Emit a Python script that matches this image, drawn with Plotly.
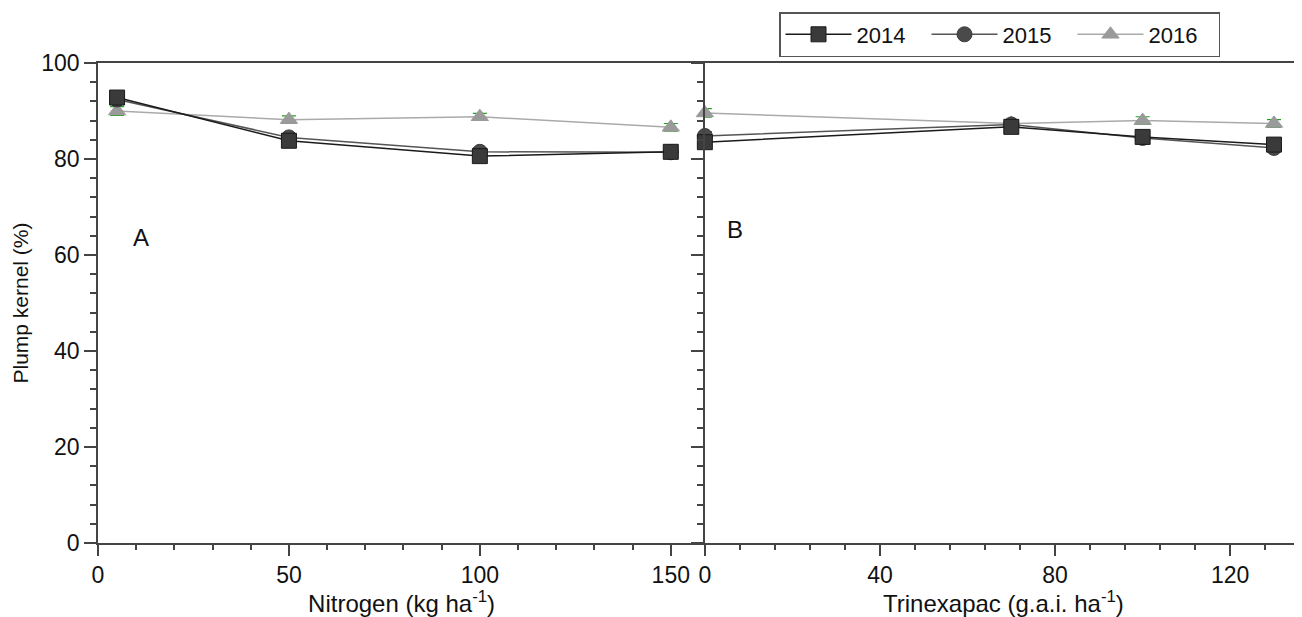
import plotly.graph_objects as go

# ---- data ----
nitrogen = [5, 50, 100, 150]
n_2014 = [92.8, 83.8, 80.6, 81.5]
n_2015 = [92.4, 84.5, 81.5, 81.4]
n_2016 = [90.0, 88.2, 88.8, 86.6]
n_err_2014 = [0.8, 0.7, 0.8, 0.7]
n_err_2015 = [0.9, 0.8, 0.7, 0.7]
n_err_2016 = [0.9, 0.8, 0.7, 0.8]

trinexapac = [0, 70, 100, 130]
t_2014 = [83.5, 86.7, 84.6, 83.0]
t_2015 = [84.8, 87.2, 84.4, 82.3]
t_2016 = [89.6, 87.4, 88.0, 87.4]
t_err_2014 = [0.8, 0.8, 0.7, 0.7]
t_err_2015 = [0.9, 0.8, 0.7, 0.7]
t_err_2016 = [0.9, 0.8, 0.8, 0.8]

years = ["2014", "2015", "2016"]

FONT = "Liberation Sans, Arial, sans-serif"
AX = "#444444"

styles = {
    "2014": dict(symbol="square", fill="#3a3a3a", edge="#1a1a1a", line="#1a1a1a", err="#2030d0"),
    "2015": dict(symbol="circle", fill="#4a4a4a", edge="#3a3a3a", line="#555555", err="#d02020"),
    "2016": dict(symbol="triangle-up", fill="#9a9a9a", edge="#9a9a9a", line="#aaaaaa", err="#20a020"),
}

fig = go.Figure()

panels = [
    ("x", "y", nitrogen, [n_2014, n_2015, n_2016], [n_err_2014, n_err_2015, n_err_2016], True),
    ("x2", "y2", trinexapac, [t_2014, t_2015, t_2016], [t_err_2014, t_err_2015, t_err_2016], False),
]

order = [2, 1, 0]
for xa, ya, xs, series, errs, show in panels:
    for i in order:
        yr = years[i]
        s = styles[yr]
        fig.add_trace(go.Scatter(
            x=xs, y=series[i], xaxis=xa, yaxis=ya,
            mode="lines+markers", name=yr, showlegend=show, legendrank=i + 1,
            cliponaxis=False,
            line=dict(color=s["line"], width=1.5),
            marker=dict(symbol=s["symbol"], size=15, color=s["fill"],
                        line=dict(color=s["edge"], width=1)),
            error_y=dict(type="data", array=errs[i], color=s["err"], thickness=1.2, width=7),
        ))

tickfont = dict(family=FONT, size=23, color="#111")
common_axis = dict(showline=True, linecolor=AX, linewidth=1.5, ticks="outside",
                   tickcolor=AX, tickwidth=1.5, showgrid=False,
                   zeroline=False, tickfont=tickfont, automargin=False)
title_font = dict(family=FONT, size=24, color="#111")

# page body has an 8px margin, so the figure is drawn 8px in from the window edge
W, H = 1294, 609
L, T = 89.7, 55
B = H - 535
PW = W - L
xsplit_left = (697 - L) / PW
xsplit_right = (696.7 - L) / PW

fig.update_layout(
    width=W, height=H,
    margin=dict(l=L, r=0, t=T, b=B, pad=0, autoexpand=False),
    paper_bgcolor="white", plot_bgcolor="white",
    font=dict(family=FONT, color="#111"),
    xaxis=dict(domain=[0, xsplit_left], range=[0, 159], dtick=50, tick0=0,
               mirror=True, anchor="y", ticklen=11,
               minor=dict(dtick=10, ticklen=5, tickcolor=AX, ticks="outside", showgrid=False),
               title=dict(text="Nitrogen (kg ha<sup>-1</sup>)", font=title_font, standoff=2),
               **common_axis),
    xaxis2=dict(domain=[xsplit_right, 1.0], range=[0, 136.4], dtick=40, tick0=0,
                mirror=True, anchor="y2", ticklen=11,
                minor=dict(dtick=8, ticklen=5, tickcolor=AX, ticks="outside", showgrid=False),
                title=dict(text="Trinexapac (g.a.i. ha<sup>-1</sup>)", font=title_font, standoff=2),
                **common_axis),
    yaxis=dict(domain=[0, 1], range=[0, 100], dtick=20, anchor="x", ticklen=12,
               minor=dict(dtick=4, ticklen=6, tickcolor=AX, ticks="outside", showgrid=False),
               title=dict(text="Plump kernel (%)", font=dict(family=FONT, size=21, color="#111"), standoff=7),
               **common_axis),
    yaxis2=dict(domain=[0, 1], range=[0, 100], dtick=20, anchor="x2", ticklen=12,
                showticklabels=False,
                minor=dict(dtick=4, ticklen=6, tickcolor=AX, ticks="outside", showgrid=False),
                **common_axis),
    legend=dict(orientation="h", xref="container", yref="container",
                x=(779 - 8) / W, xanchor="left", y=(H - 4) / H, yanchor="top",
                bgcolor="white", bordercolor="#555555", borderwidth=1.5,
                font=dict(family=FONT, size=22, color="#111"),
                entrywidth=65, entrywidthmode="pixels", itemwidth=66,
                traceorder="normal"),
)

fig.add_annotation(text="A", x=(131 - 97.7) / PW, y=(543 - 222) / 480, xref="paper", yref="paper",
                   showarrow=False, font=dict(family=FONT, size=24, color="#111"))
fig.add_annotation(text="B", x=(735 - 97.7) / PW, y=(543 - 214) / 480, xref="paper", yref="paper",
                   showarrow=False, font=dict(family=FONT, size=24, color="#111"))

fig.write_html("out.html")
